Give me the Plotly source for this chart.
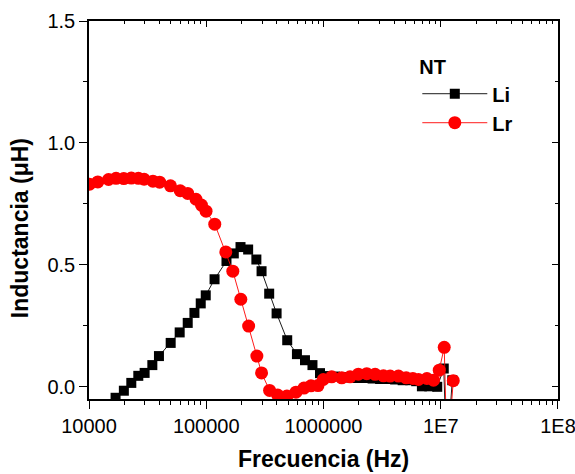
import plotly.graph_objects as go

# Li (black squares)
freq_li = [16850, 19830, 22950, 26330, 29810, 34690, 39500, 49730, 59350, 69500,
           79290, 89750, 99010, 117700, 148800, 171800, 196000, 227700, 267600, 296300,
           344200, 398100, 490500, 593500, 695000, 805400, 933500, 1082000, 1254000, 1453000,
           1685000, 1953000, 2263000, 2623000, 3040000, 3524000, 4084000, 4733000, 5486000, 6175000,
           6907000, 7976000, 9335000, 10610000, 11250000, 12540000]
li = [-0.045, -0.016, 0.016, 0.045, 0.057, 0.089, 0.126, 0.180, 0.223, 0.262,
      0.303, 0.342, 0.375, 0.441, 0.516, 0.547, 0.573, 0.563, 0.522, 0.474,
      0.382, 0.301, 0.191, 0.134, 0.109, 0.089, 0.056, 0.044, 0.042, 0.040,
      0.038, 0.036, 0.036, 0.034, 0.032, 0.032, 0.030, 0.027, 0.027, 0.023,
      0.002, 0.002, 0.000, 0.075, -0.300, 0.027]

# Lr (red circles)
freq_lr = [10100, 11890, 14680, 17010, 19800, 22950, 26390, 29520, 35100, 40050,
           49540, 59970, 69500, 81810, 90990, 99610, 118200, 146800, 168500, 197200,
           229900, 270200, 296300, 346900, 406800, 487500, 582100, 681300, 781800, 897600,
           996100, 1175000, 1431000, 1685000, 1983000, 2340000, 2756000, 3245000, 3702000, 4358000,
           5072000, 5786000, 6460000, 7622000, 8680000, 9710000, 10710000, 11360000, 12790000]
lr = [0.831, 0.840, 0.850, 0.855, 0.854, 0.856, 0.855, 0.851, 0.843, 0.839,
      0.824, 0.804, 0.793, 0.769, 0.745, 0.720, 0.667, 0.553, 0.474, 0.359,
      0.249, 0.126, 0.057, -0.015, -0.034, -0.038, -0.022, -0.005, 0.004, 0.005,
      0.030, 0.041, 0.037, 0.041, 0.052, 0.054, 0.051, 0.045, 0.044, 0.044,
      0.037, 0.034, 0.030, 0.034, 0.027, 0.068, 0.162, -0.300, 0.025]

x_tickvals = [1e4, 1e5, 1e6, 1e7, 1e8]
x_ticktext = ["10000", "100000", "1000000", "1E7", "1E8"]
y_tickvals = [0.0, 0.5, 1.0, 1.5]
y_ticktext = ["0.0", "0.5", "1.0", "1.5"]

FONT = "Liberation Sans, Arial, sans-serif"
XR = [4, 8.0001]
YR = [-0.05, 1.5]

fig = go.Figure()
fig.add_trace(go.Scatter(
    x=freq_li, y=li, mode="lines+markers", name="<b>Li</b>",
    line=dict(color="black", width=0.9),
    marker=dict(symbol="square", size=10, color="black"),
    xaxis="x", yaxis="y",
))
fig.add_trace(go.Scatter(
    x=freq_lr, y=lr, mode="lines+markers", name="<b>Lr</b>",
    line=dict(color="#ff0000", width=0.9),
    marker=dict(symbol="circle", size=13, color="#ff0000"),
    xaxis="x2", yaxis="y2",
))

fig.update_layout(
    width=575, height=474,
    margin=dict(l=89, r=17, t=21, b=75),
    paper_bgcolor="white", plot_bgcolor="white",
    font=dict(family=FONT, color="black"),
    showlegend=True,
    legend=dict(
        x=0.70, y=0.928, xanchor="left", yanchor="top",
        bgcolor="rgba(0,0,0,0)",
        title=dict(text="<b>NT</b>", font=dict(size=20, family=FONT)),
        font=dict(size=20, family=FONT),
        tracegroupgap=0, itemwidth=65,
    ),
    xaxis=dict(
        type="log", range=XR, automargin=False,
        tickvals=x_tickvals, ticktext=x_ticktext,
        ticks="outside", ticklen=8, tickwidth=1, tickcolor="black",
        ticklabeloverflow="allow",
        tickfont=dict(size=20, family=FONT),
        showline=True, linecolor="black", linewidth=1.5,
        showgrid=False, zeroline=False,
        minor=dict(ticks="outside", ticklen=4, dtick="D1", tickcolor="black", showgrid=False),
    ),
    yaxis=dict(
        range=YR, automargin=False,
        tickvals=y_tickvals, ticktext=y_ticktext,
        ticks="outside", ticklen=8, tickwidth=1, tickcolor="black",
        tickfont=dict(size=20, family=FONT),
        showline=True, linecolor="black", linewidth=1.5,
        showgrid=False, zeroline=False,
        minor=dict(ticks="outside", ticklen=4, dtick=0.25, tick0=0, tickcolor="black", showgrid=False),
    ),
    xaxis2=dict(
        type="log", range=XR, overlaying="x", side="top", anchor="y2", automargin=False,
        showline=True, linecolor="black", linewidth=1.5, showgrid=False, zeroline=False,
        ticks="inside", ticklen=6, tickcolor="black", showticklabels=False,
        tickvals=x_tickvals,
        minor=dict(ticks="inside", ticklen=3, dtick="D1", tickcolor="black", showgrid=False),
    ),
    yaxis2=dict(
        range=YR, overlaying="y", side="right", anchor="x2", automargin=False,
        showline=True, linecolor="black", linewidth=1.5, showgrid=False, zeroline=False,
        ticks="inside", ticklen=6, tickcolor="black", showticklabels=False,
        tickvals=y_tickvals,
        minor=dict(ticks="inside", ticklen=3, dtick=0.25, tick0=0, tickcolor="black", showgrid=False),
    ),
    annotations=[
        dict(text="<b>Frecuencia (Hz)</b>", xref="paper", yref="paper",
             x=0.5, y=-0.16, xanchor="center", yanchor="middle",
             showarrow=False, font=dict(size=23, family=FONT)),
        dict(text="<b>Inductancia (μH)</b>", xref="paper", yref="paper",
             x=-0.147, y=0.452, xanchor="center", yanchor="middle", textangle=-90,
             showarrow=False, font=dict(size=23, family=FONT)),
    ],
)

fig.write_html("out.html")
